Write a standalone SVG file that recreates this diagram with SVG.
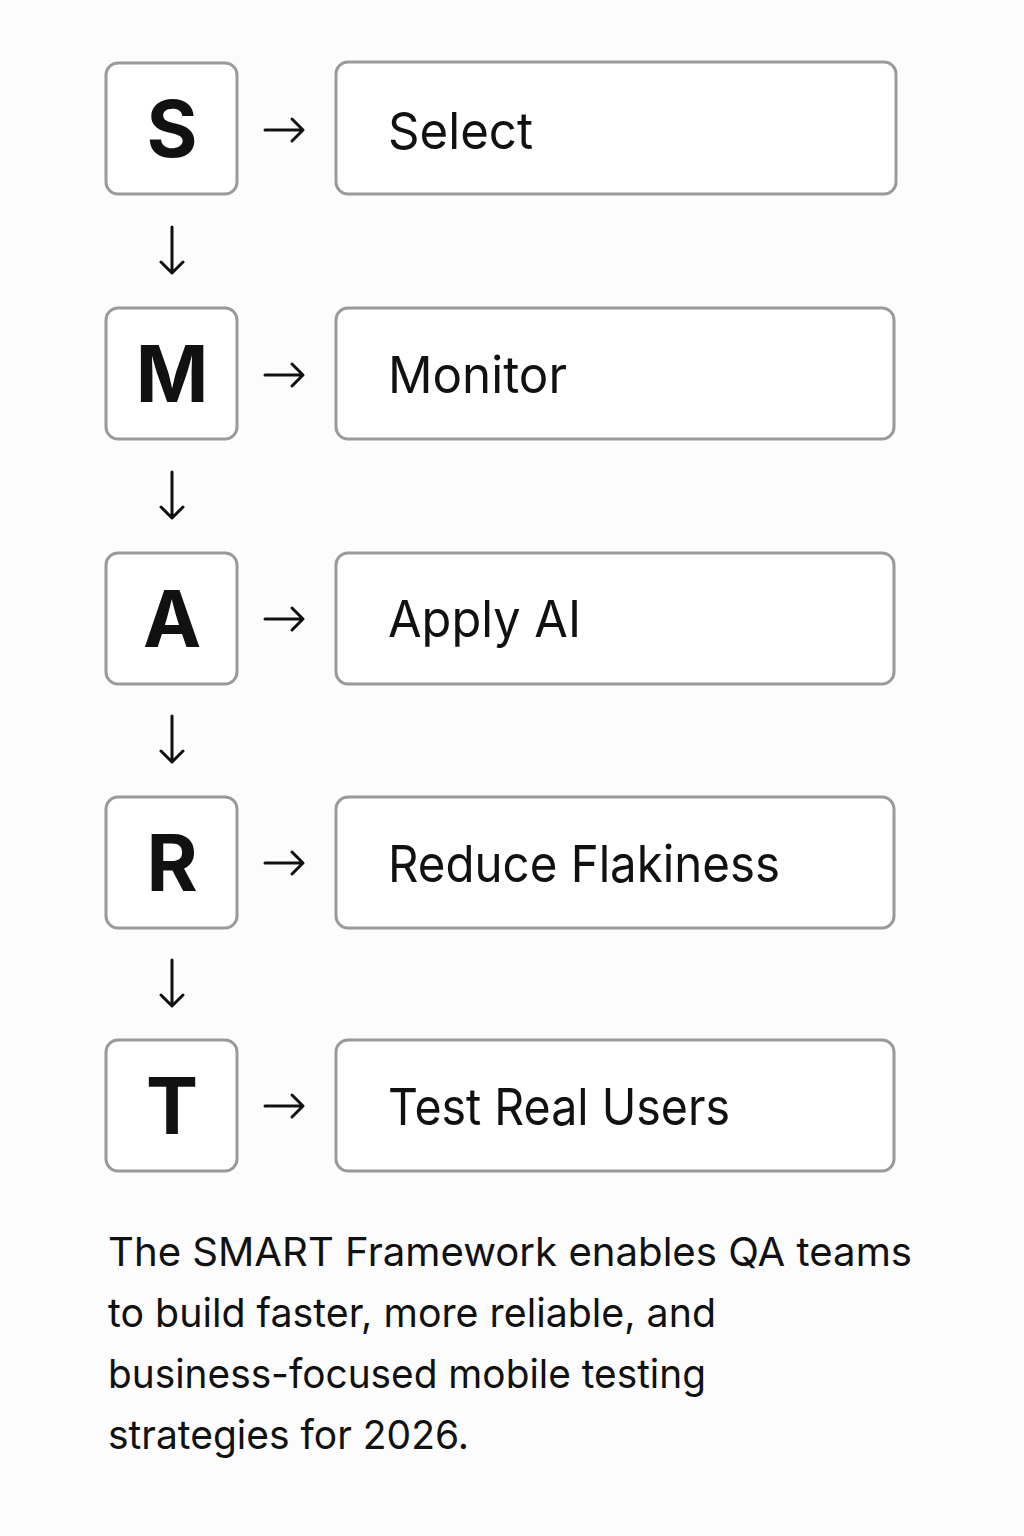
<svg xmlns="http://www.w3.org/2000/svg" width="1024" height="1536" viewBox="0 0 1024 1536">
<style>
.box{fill:#ffffff;stroke:#9a9a9a;stroke-width:3}
.let{font-family:Inter,"Noto Sans",sans-serif;font-weight:700;font-size:78px;fill:#111;text-anchor:middle}
.lab{font-family:Inter,"Noto Sans",sans-serif;font-size:51px;fill:#111}
.cap{font-family:Inter,"Noto Sans",sans-serif;font-size:40px;fill:#111}
.arr{fill:none;stroke:#111;stroke-width:3;stroke-linecap:round;stroke-linejoin:round}
</style>
<rect width="1024" height="1536" fill="#fcfcfc"/>
<g id="node-S"><rect class="box" x="106" y="63" width="131" height="131" rx="12"/><text class="let" x="172" y="157">S</text></g>
<g id="node-Select"><rect class="box" x="336" y="62" width="560" height="132" rx="12"/><text class="lab" x="388" y="149" textLength="145" lengthAdjust="spacingAndGlyphs">Select</text></g>
<g id="node-M"><rect class="box" x="106" y="308" width="131" height="131" rx="12"/><text class="let" x="172" y="402">M</text></g>
<g id="node-Monitor"><rect class="box" x="336" y="308" width="558" height="131" rx="12"/><text class="lab" x="388" y="393" textLength="179" lengthAdjust="spacingAndGlyphs">Monitor</text></g>
<g id="node-A"><rect class="box" x="106" y="553" width="131" height="131" rx="12"/><text class="let" x="172" y="647">A</text></g>
<g id="node-Apply"><rect class="box" x="336" y="553" width="558" height="131" rx="12"/><text class="lab" x="388" y="637" textLength="193" lengthAdjust="spacingAndGlyphs">Apply AI</text></g>
<g id="node-R"><rect class="box" x="106" y="797" width="131" height="131" rx="12"/><text class="let" x="172" y="891">R</text></g>
<g id="node-Reduce"><rect class="box" x="336" y="797" width="558" height="131" rx="12"/><text class="lab" x="388" y="882" textLength="392" lengthAdjust="spacingAndGlyphs">Reduce Flakiness</text></g>
<g id="node-T"><rect class="box" x="106" y="1040" width="131" height="131" rx="12"/><text class="let" x="172" y="1134">T</text></g>
<g id="node-Test"><rect class="box" x="336" y="1040" width="558" height="131" rx="12"/><text class="lab" x="388" y="1125" textLength="342" lengthAdjust="spacingAndGlyphs">Test Real Users</text></g>
<g id="connectors">
<path class="arr" d="M265 130H303M292 119L303 130L292 141"/>
<path class="arr" d="M265 375H303M292 364L303 375L292 386"/>
<path class="arr" d="M265 619H303M292 608L303 619L292 630"/>
<path class="arr" d="M265 863H303M292 852L303 863L292 874"/>
<path class="arr" d="M265 1106H303M292 1095L303 1106L292 1117"/>
<path class="arr" d="M172 227V273M161 262L172 273L183 262"/>
<path class="arr" d="M172 472V518M161 507L172 518L183 507"/>
<path class="arr" d="M172 716V762M161 751L172 762L183 751"/>
<path class="arr" d="M172 960V1006M161 995L172 1006L183 995"/>
</g>
<g id="caption">
<text class="cap" x="108" y="1266" textLength="804" lengthAdjust="spacingAndGlyphs">The SMART Framework enables QA teams</text>
<text class="cap" x="108" y="1327" textLength="608" lengthAdjust="spacingAndGlyphs">to build faster, more reliable, and</text>
<text class="cap" x="108" y="1388" textLength="598" lengthAdjust="spacingAndGlyphs">business-focused mobile testing</text>
<text class="cap" x="108" y="1449" textLength="361" lengthAdjust="spacingAndGlyphs">strategies for 2026.</text>
</g>
</svg>
